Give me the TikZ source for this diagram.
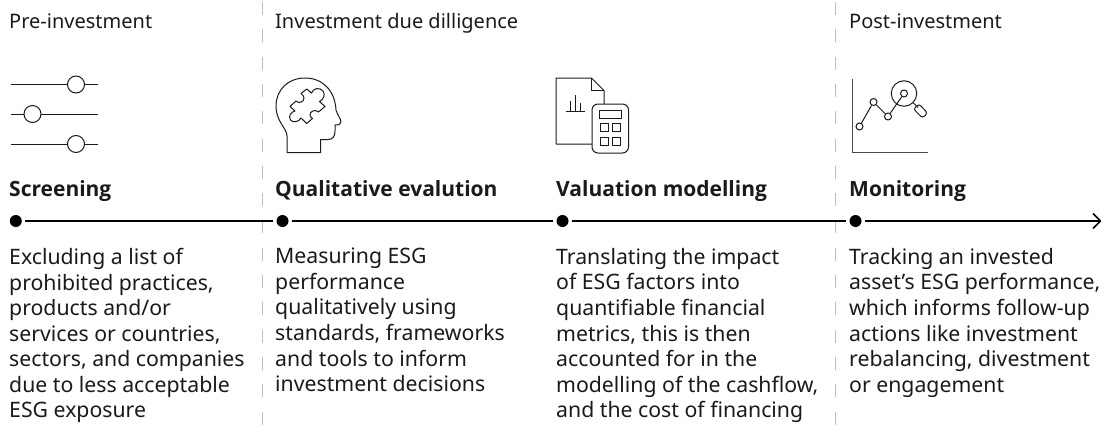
\documentclass[tikz,border=0pt]{standalone}
\usepackage{fontspec}
\setmainfont{Noto Sans}
\newfontfamily\ttlfont{Open Sans}
\definecolor{ink}{HTML}{1A1A1A}
\tikzset{
  txt/.style={anchor=north west,inner sep=0pt,align=left,text=ink,font=\fontsize{21.25}{25.56}\selectfont,execute at begin node={\rule{0pt}{18pt}}},
  hd/.style={anchor=base west,inner sep=0pt,text=ink,font=\fontsize{20}{24}\selectfont},
  ttl/.style={anchor=base west,inner sep=0pt,text=ink,font=\fontsize{21}{24}\selectfont\ttlfont\bfseries},
  ico/.style={line width=1pt,draw=ink},
  sep/.style={draw=black!25,line width=1pt,dash pattern=on 13pt off 14.3pt},
  dotn/.style={circle,fill=black,inner sep=0pt,minimum size=12pt},
  knob/.style={circle,draw=ink,fill=white,line width=1pt,inner sep=0pt,minimum size=17pt},
  pt/.style={circle,draw=ink,fill=white,line width=1pt,inner sep=0pt,minimum size=7pt},
  tl/.style={line width=1.8pt,black},
}
\begin{document}
\begin{tikzpicture}[x=1pt,y=-1pt]
\useasboundingbox (0,0) rectangle (1101,439);
\draw[sep] (262.5,2) -- (262.5,439);
\draw[sep] (835.5,2) -- (835.5,439);
% headers
\node[hd] (h1) at (9,28.5) {Pre-investment};
\node[hd] (h2) at (275,28.5) {Investment due dilligence};
\node[hd] (h3) at (849,28.5) {Post-investment};
% sliders
\coordinate (s1a) at (11,84.5); \coordinate (s1b) at (98,84.5);
\coordinate (s2a) at (11,114); \coordinate (s2b) at (98,114);
\coordinate (s3a) at (11,144); \coordinate (s3b) at (98,144);
\draw[ico] (s1a) -- (s1b); \draw[ico] (s2a) -- (s2b); \draw[ico] (s3a) -- (s3b);
\node[knob] (k1) at (76,84.5) {};
\node[knob] (k2) at (32.5,114) {};
\node[knob] (k3) at (76,144) {};
% head
\draw[ico,line join=round] (287,152.5) -- (320.5,152.5) -- (320.5,139.5) -- (328,139.5)
 .. controls (333,139.5) and (335,136) .. (335,131) -- (335,125)
 .. controls (339,125) and (341,124) .. (341,122)
 .. controls (341,119) and (337,114) .. (336,110)
 .. controls (335,90) and (322,78) .. (305,78)
 .. controls (288,78) and (276,90) .. (276,106)
 .. controls (276,122) and (287,128) .. (287,136) -- cycle;
\draw[ico,line join=round] (306.7,89) -- (311.5,93)
 .. controls (313,88) and (320,87) .. (323,91)
 .. controls (326,95) and (323,100) .. (319.5,101.5) -- (325,106.5) -- (318.5,112)
 .. controls (315,109) and (310,111) .. (310,115)
 .. controls (310,116) and (311,117.5) .. (312.5,118.5) -- (306.7,123.5) -- (301,118)
 .. controls (299,122) and (293,123) .. (290.5,120)
 .. controls (288,116) and (291,112) .. (295,111) -- (290,106.5) -- (296,101)
 .. controls (299,104) and (304,102) .. (304,98)
 .. controls (304,96.5) and (303,95) .. (301,93.5) -- cycle;
% document + calculator
\draw[ico,line join=round] (592,144) -- (556,144) -- (556,78) -- (591.5,78) -- (604,90.5) -- (604,104);
\draw[ico,line join=round] (591.5,78) -- (591.5,90.5) -- (604,90.5);
\draw[ico] (566,111.5) -- (585,111.5);
\draw[ico] (570.5,111.5) -- (570.5,101); \draw[ico] (575.5,111.5) -- (575.5,95); \draw[ico] (580.5,111.5) -- (580.5,103);
\draw[ico,rounded corners=6pt] (592,104) rectangle (628.5,153);
\draw[ico] (599,110) rectangle (621,118);
\foreach \x in {600,612.5}{\foreach \y in {123.5,137}{\draw[ico] (\x,\y) rectangle +(8,8);}}
% chart
\draw[ico,draw=black!70] (852,78.5) -- (852,152.5) -- (927.5,152.5);
\node[pt] (p1) at (859.5,126.5) {};
\node[pt] (p2) at (873.5,102) {};
\node[pt] (p3) at (888,116.5) {};
\node[pt] (p4) at (904,93.5) {};
\draw[ico] (p1) -- (p2); \draw[ico] (p2) -- (p3); \draw[ico] (p3) -- (p4);
\node[circle,draw=ink,line width=1pt,inner sep=0pt,minimum size=25.5pt] (lens) at (904,93.5) {};
\draw[ico] (lens) ++(9,9) -- ++(5,5);
\draw[ico,rounded corners=2.5pt] (913.5,109) -- (919,104) -- (927.5,113) -- (922.5,118) -- cycle;
% titles
\node[ttl] (t1) at (9,196.7) {Screening};
\node[ttl] (t2) at (275,196.7) {Qualitative evalution};
\node[ttl] (t3) at (556,196.7) {Valuation modelling};
\node[ttl] (t4) at (849,196.7) {Monitoring};
% timeline
\node[dotn] (d1) at (15.8,221) {};
\node[dotn] (d2) at (282.5,221) {};
\node[dotn] (d3) at (562.5,221) {};
\node[dotn] (d4) at (855.5,221) {};
\coordinate (tend) at (1100.5,221);
\draw[tl] ([xshift=3pt]d1.east) -- ([xshift=-3pt]d2.west);
\draw[tl] ([xshift=3pt]d2.east) -- ([xshift=-3pt]d3.west);
\draw[tl] ([xshift=3pt]d3.east) -- ([xshift=-3pt]d4.west);
\draw[tl] ([xshift=3pt]d4.east) -- (tend);
\draw[line width=1.5pt,black] (1093,213.5) -- (tend) -- (1093,228.5);
% text
\node[txt] (b1) at (9,248) {Excluding a list of\\prohibited practices,\\products and/or\\services or countries,\\sectors, and companies\\due to less acceptable\\ESG exposure};
\node[txt] (b2) at (275,248) {Measuring ESG\\performance\\qualitatively using\\standards, frameworks\\and tools to inform\\investment decisions};
\node[txt] (b3) at (556,248) {Translating the impact\\of ESG factors into\\quantifiable financial\\metrics, this is then\\accounted for in the\\modelling of the cashflow,\\and the cost of financing};
\node[txt] (b4) at (849,248) {Tracking an invested\\asset's ESG performance,\\which informs follow-up\\actions like investment\\rebalancing, divestment\\or engagement};
\end{tikzpicture}
\end{document}
